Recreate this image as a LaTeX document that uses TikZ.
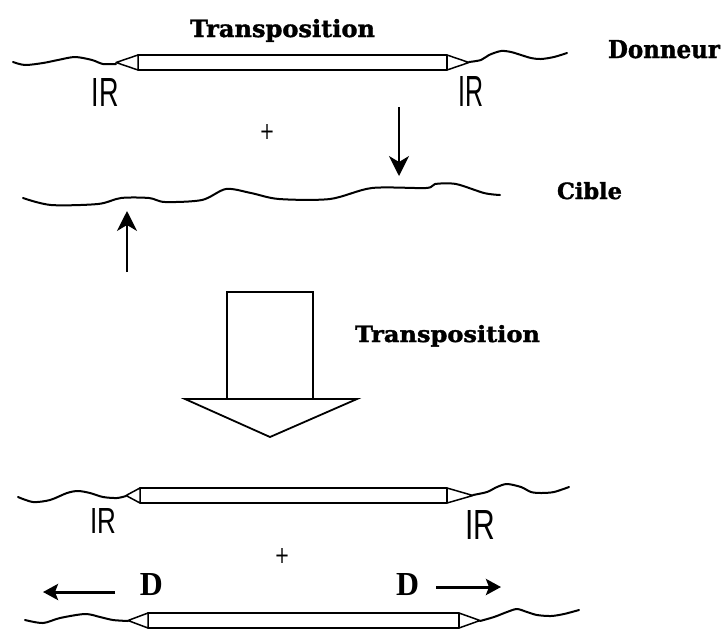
\documentclass[tikz,border=0pt]{standalone}
\usepackage{fontspec}
\setmainfont{DejaVu Serif}
\newfontfamily\headfont{DejaVu Serif}[BoldFeatures={FakeBold=1.5}]
\newfontfamily\irfont{Liberation Sans}
\newfontfamily\dfont{Liberation Serif}
\usetikzlibrary{arrows.meta}
\tikzset{
  strand/.style={line width=2pt, line cap=round, line join=round},
  tpbox/.style={line width=1.5pt, fill=white, line join=round},
  thinarrow/.style={line width=1.5pt, -{Stealth[length=20pt,width=20pt,inset=6pt]}},
  darrow/.style={line width=3pt, -{Stealth[length=15pt,width=16pt,inset=3pt]}},
  lbl/.style={inner sep=0pt, anchor=base},
  blockarrow/.style={line width=1.8pt, line join=miter, fill=white},
  plussign/.style={inner sep=0pt},
}
\newcommand{\tposon}[5]{%
  \draw[tpbox] (#2,#5-7.5) rectangle (#3,#5+7.5);
  \draw[tpbox] (#1,#5) -- (#2,#5-7.5) -- (#2,#5+7.5) -- cycle;
  \draw[tpbox] (#4,#5) -- (#3,#5-7.5) -- (#3,#5+7.5) -- cycle;
}
\begin{document}
\begin{tikzpicture}[x=1pt,y=-1pt]
\useasboundingbox (0,0) rectangle (728,630);
% ---------- donor strand ----------
\draw[strand] plot[smooth,tension=0.5] coordinates {(13,62) (25,65) (43,63) (58,60) (75,57) (92,60) (103,64) (116,64)};
\draw[strand] plot[smooth,tension=0.5] coordinates {(469,62) (481,60) (489,55) (501,51) (511,52) (521,55) (531,58) (541,59) (554,57) (567,53)};
\tposon{116}{138}{447}{469}{62.5}
\node[lbl] (t1) at (282.5,37) {\resizebox{185pt}{18pt}{\headfont\bfseries Transposition}};
\node[lbl] (don) at (664,58) {\resizebox{112pt}{18pt}{\headfont\bfseries Donneur}};
\node[lbl] (ir1) at (105,106) {\resizebox{27pt}{28pt}{\irfont IR}};
\node[lbl] (ir2) at (471,106) {\resizebox{25pt}{30pt}{\irfont IR}};
\node[plussign] (p1) at (267,132) {\resizebox{15pt}{15pt}{+}};
% ---------- target strand ----------
\draw[strand] plot[smooth,tension=0.5] coordinates {(23,198) (51,205) (98,204) (121,198) (149,198) (165,202) (202,200) (226,189) (251,193) (279,199) (330,199) (372,188) (426,188) (435,184) (456,184) (484,193) (500,195)};
\node[lbl] (cib) at (589.5,199) {\resizebox{65pt}{17pt}{\headfont\bfseries Cible}};
\coordinate (a1s) at (399,107);
\coordinate (a1e) at (399,176);
\draw[thinarrow] (a1s) -- (a1e);
\coordinate (a2s) at (127,272);
\coordinate (a2e) at (127,211);
\draw[thinarrow] (a2s) -- (a2e);
% ---------- block arrow ----------
\draw[blockarrow] (227,399) -- (227,292) -- (313,292) -- (313,399);
\draw[blockarrow] (185,399) -- (357,399) -- (270,437) -- cycle;
\node[lbl] (t2) at (447.5,342) {\resizebox{185pt}{17pt}{\headfont\bfseries Transposition}};
% ---------- product 1 ----------
\draw[strand] plot[smooth,tension=0.5] coordinates {(18,497) (33,502) (50,500) (67,493) (78,491) (90,493) (103,497) (117,498) (126,496)};
\draw[strand] plot[smooth,tension=0.5] coordinates {(473,495) (487,492) (497,487) (507,484) (521,487) (531,492) (541,493) (554,492) (569,487)};
\tposon{126}{140}{447}{473}{495.5}
\node[lbl] (ir3) at (103,533) {\resizebox{26pt}{25pt}{\irfont IR}};
\node[lbl] (ir4) at (480,539) {\resizebox{30pt}{29pt}{\irfont IR}};
\node[plussign] (p2) at (282,556) {\resizebox{15pt}{15pt}{+}};
\node[lbl] (d1) at (151.5,595) {\resizebox{23pt}{22pt}{\dfont\bfseries D}};
\node[lbl] (d2) at (407.5,595) {\resizebox{23pt}{22pt}{\dfont\bfseries D}};
\coordinate (d1s) at (115,592);
\coordinate (d1e) at (43,592);
\draw[darrow] (d1s) -- (d1e);
\coordinate (d2s) at (436,587);
\coordinate (d2e) at (501,587);
\draw[darrow] (d2s) -- (d2e);
% ---------- product 2 ----------
\draw[strand] plot[smooth,tension=0.5] coordinates {(25,620) (43,623) (60,618) (85,614) (100,617) (113,620) (128,621)};
\draw[strand] plot[smooth,tension=0.5] coordinates {(480,621) (494,617) (507,612) (517,609) (527,612) (537,615) (551,616) (564,614) (579,610)};
\tposon{128}{148}{459}{480}{620.5}
\end{tikzpicture}
\end{document}
